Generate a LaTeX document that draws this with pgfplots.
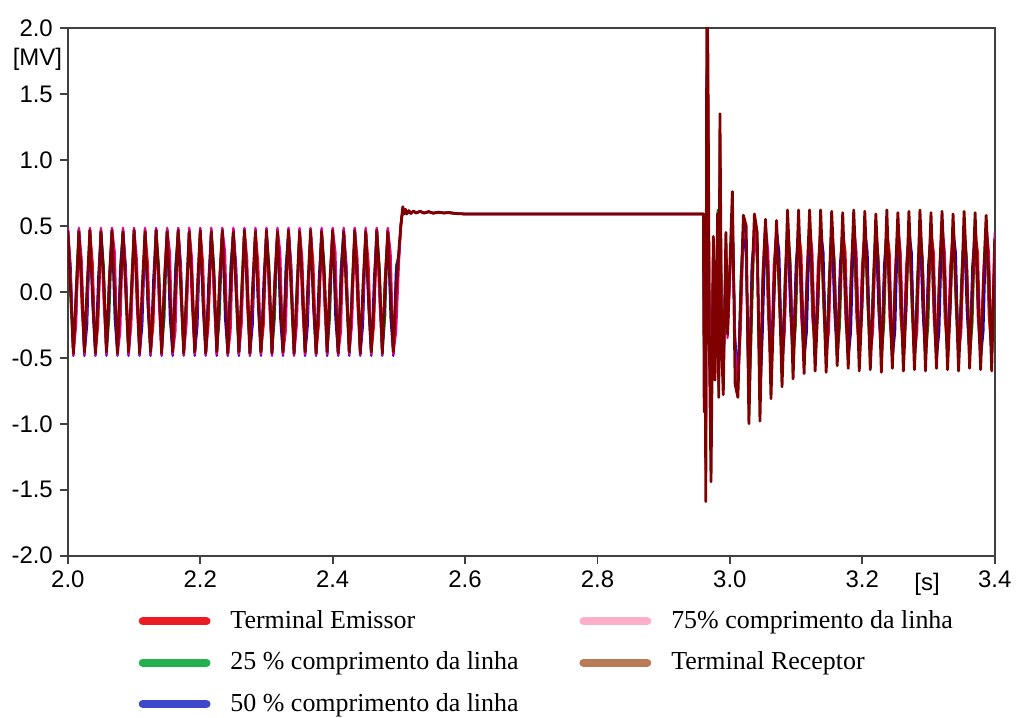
\documentclass[border=0pt]{standalone}
\usepackage{fontspec}
\setmainfont{Liberation Serif}
\setsansfont{Liberation Sans}
\usepackage{pgfplots}
\usepackage{pgfplotstable}
\pgfplotsset{compat=1.18}

\definecolor{legred}{RGB}{237,28,36}
\definecolor{leggreen}{RGB}{34,177,76}
\definecolor{legblue}{RGB}{63,72,204}
\definecolor{legpink}{RGB}{255,174,201}
\definecolor{legbrown}{RGB}{185,122,87}
\definecolor{cgreen}{RGB}{0,128,0}
\definecolor{cmaroon}{RGB}{128,0,0}

% t  emissor  25%  50%  75%  receptor   [MV]
\pgfplotstableread{
t em q25 q50 q75 rec
2.00000 0.47 0.465 0.48 0.485 0.465
2.00417 0.10 -0.05 0.20 0.15 0.02
2.00833 -0.47 -0.465 -0.485 -0.48 -0.465
2.01250 -0.12 0.05 -0.18 -0.25 -0.03
2.01667 0.465 0.47 0.475 0.485 0.455
2.02083 -0.10 0.15 0.05 0.25 0.08
2.02500 -0.465 -0.47 -0.485 -0.475 -0.455
2.02917 0.05 -0.15 -0.25 -0.10 0.04
2.03333 0.47 0.465 0.48 0.485 0.465
2.03750 0.22 0.00 -0.12 0.10 -0.05
2.04167 -0.47 -0.465 -0.485 -0.48 -0.465
2.04583 -0.25 -0.05 0.10 -0.15 -0.08
2.05000 0.465 0.47 0.475 0.485 0.455
2.05417 0.00 0.20 0.12 -0.08 0.10
2.05833 -0.465 -0.47 -0.485 -0.475 -0.455
2.06250 0.12 -0.20 -0.05 0.08 0.06
2.06667 0.47 0.465 0.48 0.485 0.465
2.07083 0.05 0.10 -0.20 0.30 -0.02
2.07500 -0.47 -0.465 -0.485 -0.48 -0.465
2.07917 -0.05 0.20 0.15 -0.30 0.00
2.08333 0.465 0.47 0.475 0.485 0.455
2.08750 0.10 -0.05 0.20 0.15 0.02
2.09167 -0.465 -0.47 -0.485 -0.475 -0.455
2.09583 -0.12 0.05 -0.18 -0.25 -0.03
2.10000 0.47 0.465 0.48 0.485 0.465
2.10417 -0.10 0.15 0.05 0.25 0.08
2.10833 -0.47 -0.465 -0.485 -0.48 -0.465
2.11250 0.05 -0.15 -0.25 -0.10 0.04
2.11667 0.465 0.47 0.475 0.485 0.455
2.12083 0.22 0.00 -0.12 0.10 -0.05
2.12500 -0.465 -0.47 -0.485 -0.475 -0.455
2.12917 -0.25 -0.05 0.10 -0.15 -0.08
2.13333 0.47 0.465 0.48 0.485 0.465
2.13750 0.00 0.20 0.12 -0.08 0.10
2.14167 -0.47 -0.465 -0.485 -0.48 -0.465
2.14583 0.12 -0.20 -0.05 0.08 0.06
2.15000 0.465 0.47 0.475 0.485 0.455
2.15417 0.05 0.10 -0.20 0.30 -0.02
2.15833 -0.465 -0.47 -0.485 -0.475 -0.455
2.16250 -0.05 0.20 0.15 -0.30 0.00
2.16667 0.47 0.465 0.48 0.485 0.465
2.17083 0.10 -0.05 0.20 0.15 0.02
2.17500 -0.47 -0.465 -0.485 -0.48 -0.465
2.17917 -0.12 0.05 -0.18 -0.25 -0.03
2.18333 0.465 0.47 0.475 0.485 0.455
2.18750 -0.10 0.15 0.05 0.25 0.08
2.19167 -0.465 -0.47 -0.485 -0.475 -0.455
2.19583 0.05 -0.15 -0.25 -0.10 0.04
2.20000 0.47 0.465 0.48 0.485 0.465
2.20417 0.22 0.00 -0.12 0.10 -0.05
2.20833 -0.47 -0.465 -0.485 -0.48 -0.465
2.21250 -0.25 -0.05 0.10 -0.15 -0.08
2.21667 0.465 0.47 0.475 0.485 0.455
2.22083 0.00 0.20 0.12 -0.08 0.10
2.22500 -0.465 -0.47 -0.485 -0.475 -0.455
2.22917 0.12 -0.20 -0.05 0.08 0.06
2.23333 0.47 0.465 0.48 0.485 0.465
2.23750 0.05 0.10 -0.20 0.30 -0.02
2.24167 -0.47 -0.465 -0.485 -0.48 -0.465
2.24583 -0.05 0.20 0.15 -0.30 0.00
2.25000 0.465 0.47 0.475 0.485 0.455
2.25417 0.10 -0.05 0.20 0.15 0.02
2.25833 -0.465 -0.47 -0.485 -0.475 -0.455
2.26250 -0.12 0.05 -0.18 -0.25 -0.03
2.26667 0.47 0.465 0.48 0.485 0.465
2.27083 -0.10 0.15 0.05 0.25 0.08
2.27500 -0.47 -0.465 -0.485 -0.48 -0.465
2.27917 0.05 -0.15 -0.25 -0.10 0.04
2.28333 0.465 0.47 0.475 0.485 0.455
2.28750 0.22 0.00 -0.12 0.10 -0.05
2.29167 -0.465 -0.47 -0.485 -0.475 -0.455
2.29583 -0.25 -0.05 0.10 -0.15 -0.08
2.30000 0.47 0.465 0.48 0.485 0.465
2.30417 0.00 0.20 0.12 -0.08 0.10
2.30833 -0.47 -0.465 -0.485 -0.48 -0.465
2.31250 0.12 -0.20 -0.05 0.08 0.06
2.31667 0.465 0.47 0.475 0.485 0.455
2.32083 0.05 0.10 -0.20 0.30 -0.02
2.32500 -0.465 -0.47 -0.485 -0.475 -0.455
2.32917 -0.05 0.20 0.15 -0.30 0.00
2.33333 0.47 0.465 0.48 0.485 0.465
2.33750 0.10 -0.05 0.20 0.15 0.02
2.34167 -0.47 -0.465 -0.485 -0.48 -0.465
2.34583 -0.12 0.05 -0.18 -0.25 -0.03
2.35000 0.465 0.47 0.475 0.485 0.455
2.35417 -0.10 0.15 0.05 0.25 0.08
2.35833 -0.465 -0.47 -0.485 -0.475 -0.455
2.36250 0.05 -0.15 -0.25 -0.10 0.04
2.36667 0.47 0.465 0.48 0.485 0.465
2.37083 0.22 0.00 -0.12 0.10 -0.05
2.37500 -0.47 -0.465 -0.485 -0.48 -0.465
2.37917 -0.25 -0.05 0.10 -0.15 -0.08
2.38333 0.465 0.47 0.475 0.485 0.455
2.38750 0.00 0.20 0.12 -0.08 0.10
2.39167 -0.465 -0.47 -0.485 -0.475 -0.455
2.39583 0.12 -0.20 -0.05 0.08 0.06
2.40000 0.47 0.465 0.48 0.485 0.465
2.40417 0.05 0.10 -0.20 0.30 -0.02
2.40833 -0.47 -0.465 -0.485 -0.48 -0.465
2.41250 -0.05 0.20 0.15 -0.30 0.00
2.41667 0.465 0.47 0.475 0.485 0.455
2.42083 0.10 -0.05 0.20 0.15 0.02
2.42500 -0.465 -0.47 -0.485 -0.475 -0.455
2.42917 -0.12 0.05 -0.18 -0.25 -0.03
2.43333 0.47 0.465 0.48 0.485 0.465
2.43750 -0.10 0.15 0.05 0.25 0.08
2.44167 -0.47 -0.465 -0.485 -0.48 -0.465
2.44583 0.05 -0.15 -0.25 -0.10 0.04
2.45000 0.465 0.47 0.475 0.485 0.455
2.45417 0.22 0.00 -0.12 0.10 -0.05
2.45833 -0.465 -0.47 -0.485 -0.475 -0.455
2.46250 -0.25 -0.05 0.10 -0.15 -0.08
2.46667 0.47 0.465 0.48 0.485 0.465
2.47083 0.00 0.20 0.12 -0.08 0.10
2.47500 -0.47 -0.465 -0.485 -0.48 -0.465
2.47917 0.12 -0.20 -0.05 0.08 0.06
2.48333 0.465 0.47 0.475 0.485 0.455
2.48750 0.05 0.10 -0.20 0.30 -0.02
2.49167 -0.465 -0.47 -0.485 -0.475 -0.455
2.49583 -0.05 0.20 0.15 -0.30 0.00
2.50050 0.30 0.28 0.32 0.26 0.35
2.50300 0.52 0.50 0.51 0.49 0.50
2.50600 0.63 0.62 0.64 0.63 0.645
2.50800 0.595 0.60 0.59 0.60 0.59
2.51000 0.62 0.625 0.62 0.62 0.625
2.51200 0.59 0.595 0.59 0.595 0.59
2.51500 0.615 0.61 0.615 0.61 0.615
2.51800 0.592 0.595 0.595 0.595 0.595
2.52200 0.613 0.61 0.61 0.61 0.612
2.52600 0.595 0.598 0.598 0.598 0.598
2.53200 0.612 0.608 0.61 0.608 0.61
2.53800 0.596 0.598 0.597 0.598 0.597
2.54500 0.61 0.606 0.607 0.606 0.607
2.55200 0.595 0.597 0.597 0.597 0.596
2.56000 0.606 0.603 0.603 0.603 0.603
2.56800 0.596 0.598 0.598 0.598 0.597
2.57500 0.603 0.600 0.600 0.600 0.600
2.58500 0.596 0.594 0.594 0.594 0.594
2.59000 0.591 0.592 0.592 0.592 0.592
2.60000 0.59 0.59 0.59 0.59 0.59
2.96000 0.59 0.59 0.59 0.59 0.59
2.96120 -0.30 -0.55 -0.60 -0.40 -0.91
2.96280 0.10 -0.20 0.00 -0.60 -0.38
2.96360 -1.20 -1.30 -1.25 -1.35 -1.59
2.96520 1.60 1.70 1.65 1.50 2.30
2.96680 1.50 1.40 1.45 1.60 1.78
2.96900 -0.30 -0.40 -0.35 -0.20 -0.38
2.97150 -1.20 -1.10 -1.15 -1.25 -1.44
2.97500 0.35 0.30 0.40 0.25 0.42
2.97750 -0.55 -0.45 -0.60 -0.50 -0.67
2.98150 0.55 0.62 0.50 0.45 0.59
2.98320 -0.70 -0.75 -0.72 -0.65 -0.80
2.98500 1.20 1.10 0.88 1.05 1.35
2.98750 -0.35 -0.25 -0.30 -0.45 -0.40
2.99000 -0.70 -0.70 -0.65 -0.60 -0.78
2.99400 0.40 0.30 0.35 0.20 0.45
2.99650 -0.30 -0.20 -0.25 -0.35 -0.32
3.00375 0.62 0.58 0.60 0.55 0.76
3.00792 -0.40 -0.45 -0.35 -0.42 -0.70
3.01208 -0.70 -0.75 -0.65 -0.70 -0.80
3.01625 -0.20 0.10 -0.05 -0.30 -0.08
3.02042 0.50 0.48 0.52 0.45 0.58
3.02458 0.30 0.35 0.25 0.40 0.50
3.02875 -0.85 -0.90 -0.80 -0.88 -1.00
3.03292 0.10 -0.25 0.20 0.00 -0.02
3.03708 0.48 0.50 0.46 0.52 0.59
3.04125 0.35 0.30 0.40 0.20 0.45
3.04542 -0.80 -0.75 -0.85 -0.80 -0.98
3.04958 -0.05 0.00 -0.30 0.15 0.06
3.05375 0.46 0.49 0.50 0.52 0.55
3.05792 -0.20 -0.05 0.20 0.30 0.08
3.06208 -0.62 -0.65 -0.60 -0.66 -0.81
3.06625 0.20 -0.10 0.05 -0.15 -0.10
3.07042 0.47 0.50 0.48 0.51 0.54
3.07458 0.15 -0.10 0.30 0.05 0.05
3.07875 -0.55 -0.58 -0.56 -0.55 -0.72
3.08292 -0.20 0.10 -0.05 -0.30 -0.08
3.08708 0.46 0.49 0.50 0.52 0.62
3.09125 -0.05 0.25 -0.15 0.20 0.12
3.09542 -0.50 -0.52 -0.53 -0.50 -0.66
3.09958 0.10 -0.25 0.20 0.00 -0.02
3.10375 0.47 0.50 0.48 0.51 0.62
3.10792 0.30 0.05 0.10 -0.20 -0.04
3.11208 -0.47 -0.50 -0.52 -0.49 -0.62
3.11625 -0.05 0.00 -0.30 0.15 0.06
3.12042 0.46 0.49 0.50 0.52 0.62
3.12458 -0.20 -0.05 0.20 0.30 0.08
3.12875 -0.46 -0.51 -0.50 -0.50 -0.60
3.13292 0.20 -0.10 0.05 -0.15 -0.10
3.13708 0.47 0.50 0.48 0.51 0.62
3.14125 0.15 -0.10 0.30 0.05 0.05
3.14542 -0.47 -0.50 -0.52 -0.49 -0.61
3.14958 -0.20 0.10 -0.05 -0.30 -0.08
3.15375 0.46 0.49 0.50 0.52 0.61
3.15792 -0.05 0.25 -0.15 0.20 0.12
3.16208 -0.46 -0.51 -0.50 -0.50 -0.56
3.16625 0.10 -0.25 0.20 0.00 -0.02
3.17042 0.47 0.50 0.48 0.51 0.60
3.17458 0.30 0.05 0.10 -0.20 -0.04
3.17875 -0.47 -0.50 -0.52 -0.49 -0.58
3.18292 -0.05 0.00 -0.30 0.15 0.06
3.18708 0.46 0.49 0.50 0.52 0.62
3.19125 -0.20 -0.05 0.20 0.30 0.08
3.19542 -0.46 -0.51 -0.50 -0.50 -0.60
3.19958 0.20 -0.10 0.05 -0.15 -0.10
3.20375 0.47 0.50 0.48 0.51 0.61
3.20792 0.15 -0.10 0.30 0.05 0.05
3.21208 -0.47 -0.50 -0.52 -0.49 -0.59
3.21625 -0.20 0.10 -0.05 -0.30 -0.08
3.22042 0.46 0.49 0.50 0.52 0.59
3.22458 -0.05 0.25 -0.15 0.20 0.12
3.22875 -0.46 -0.51 -0.50 -0.50 -0.61
3.23292 0.10 -0.25 0.20 0.00 -0.02
3.23708 0.47 0.50 0.48 0.51 0.62
3.24125 0.30 0.05 0.10 -0.20 -0.04
3.24542 -0.47 -0.50 -0.52 -0.49 -0.58
3.24958 -0.05 0.00 -0.30 0.15 0.06
3.25375 0.46 0.49 0.50 0.52 0.60
3.25792 -0.20 -0.05 0.20 0.30 0.08
3.26208 -0.46 -0.51 -0.50 -0.50 -0.60
3.26625 0.20 -0.10 0.05 -0.15 -0.10
3.27042 0.47 0.50 0.48 0.51 0.61
3.27458 0.15 -0.10 0.30 0.05 0.05
3.27875 -0.47 -0.50 -0.52 -0.49 -0.59
3.28292 -0.20 0.10 -0.05 -0.30 -0.08
3.28708 0.46 0.49 0.50 0.52 0.62
3.29125 -0.05 0.25 -0.15 0.20 0.12
3.29542 -0.46 -0.51 -0.50 -0.50 -0.60
3.29958 0.10 -0.25 0.20 0.00 -0.02
3.30375 0.47 0.50 0.48 0.51 0.60
3.30792 0.30 0.05 0.10 -0.20 -0.04
3.31208 -0.47 -0.50 -0.52 -0.49 -0.58
3.31625 -0.05 0.00 -0.30 0.15 0.06
3.32042 0.46 0.49 0.50 0.52 0.61
3.32458 -0.20 -0.05 0.20 0.30 0.08
3.32875 -0.46 -0.51 -0.50 -0.50 -0.59
3.33292 0.20 -0.10 0.05 -0.15 -0.10
3.33708 0.47 0.50 0.48 0.51 0.59
3.34125 0.15 -0.10 0.30 0.05 0.05
3.34542 -0.47 -0.50 -0.52 -0.49 -0.60
3.34958 -0.20 0.10 -0.05 -0.30 -0.08
3.35375 0.46 0.49 0.50 0.52 0.61
3.35792 -0.05 0.25 -0.15 0.20 0.12
3.36208 -0.46 -0.51 -0.50 -0.50 -0.58
3.36625 0.10 -0.25 0.20 0.00 -0.02
3.37042 0.47 0.50 0.48 0.51 0.60
3.37458 0.30 0.05 0.10 -0.20 -0.04
3.37875 -0.47 -0.50 -0.52 -0.49 -0.59
3.38292 -0.05 0.00 -0.30 0.15 0.06
3.38708 0.46 0.49 0.50 0.52 0.58
3.39125 -0.20 -0.05 0.20 0.30 0.08
3.39542 -0.46 -0.51 -0.50 -0.50 -0.60
3.40000 0.30 0.10 0.25 0.45 0.40
}\volt

\begin{document}
\begin{tikzpicture}
\begin{axis}[
    name=ax,
    scale only axis,
    width=464.5pt, height=264.5pt,
    xmin=2.0, xmax=3.4,
    ymin=-2.0, ymax=2.0,
    xtick={2.0,2.2,2.4,2.6,2.8,3.0,3.2,3.4},
    ytick={-2.0,-1.5,-1.0,-0.5,0,0.5,1.0,1.5,2.0},
    xticklabel style={/pgf/number format/.cd, fixed, fixed zerofill, precision=1, assume math mode=true},
    yticklabel style={/pgf/number format/.cd, fixed, fixed zerofill, precision=1, assume math mode=true},
    tick label style={font=\sffamily\fontsize{12}{14}\selectfont, text=black},
    tick pos=left,
    tick align=outside,
    major tick length=4pt,
    tick style={black!75, line width=0.9pt},
    axis line style={black!75, line width=0.9pt},
    xlabel={[s]},
    ylabel={[MV]},
    every axis x label/.style={at={(axis description cs:0.927,0)}, anchor=center, yshift=-14.5pt, font=\sffamily\fontsize{12}{14}\selectfont},
    every axis y label/.style={at={(axis description cs:-0.0328,0.9414)}, anchor=center, font=\sffamily\fontsize{12}{14}\selectfont},
    legend columns=2,
    legend image code/.code={\draw[#1, line width=4pt, line cap=round] (2pt,3.6pt) -- (34pt,3.6pt);},
    legend style={at={(axis description cs:0,0)}, anchor=north west,
        xshift=35.5pt, yshift=-27.5pt, draw=none, fill=none,
        inner sep=0pt, outer sep=0pt, row sep=8.7pt,
        nodes={inner sep=0pt, text height=9pt, text depth=3pt, anchor=base west,
               font=\fontsize{13}{15}\selectfont},
        /tikz/every odd column/.append style={column sep=10pt},
        /tikz/every even column/.append style={column sep=30.5pt}},
    every axis plot/.append style={line join=round},
]
\addplot[forget plot, red, line width=1.1pt] table[x=t, y=em] {\volt};
\addplot[forget plot, cgreen, line width=1.1pt] table[x=t, y=q25] {\volt};
\addplot[forget plot, blue, line width=1.1pt] table[x=t, y=q50] {\volt};
\addplot[forget plot, magenta, line width=1.1pt] table[x=t, y=q75] {\volt};
\addplot[forget plot, cmaroon, line width=1.4pt] table[x=t, y=rec] {\volt};

\addlegendimage{legred}
\addlegendentry{Terminal Emissor}
\addlegendimage{legpink}
\addlegendentry{75\% comprimento da linha}
\addlegendimage{leggreen}
\addlegendentry{25 \% comprimento da linha}
\addlegendimage{legbrown}
\addlegendentry{Terminal Receptor}
\addlegendimage{legblue}
\addlegendentry{50 \% comprimento da linha}
\end{axis}
\path ([shift={(-34pt,-79pt)}]ax.south west) rectangle ([shift={(10.5pt,14pt)}]ax.north east);
\end{tikzpicture}
\end{document}
